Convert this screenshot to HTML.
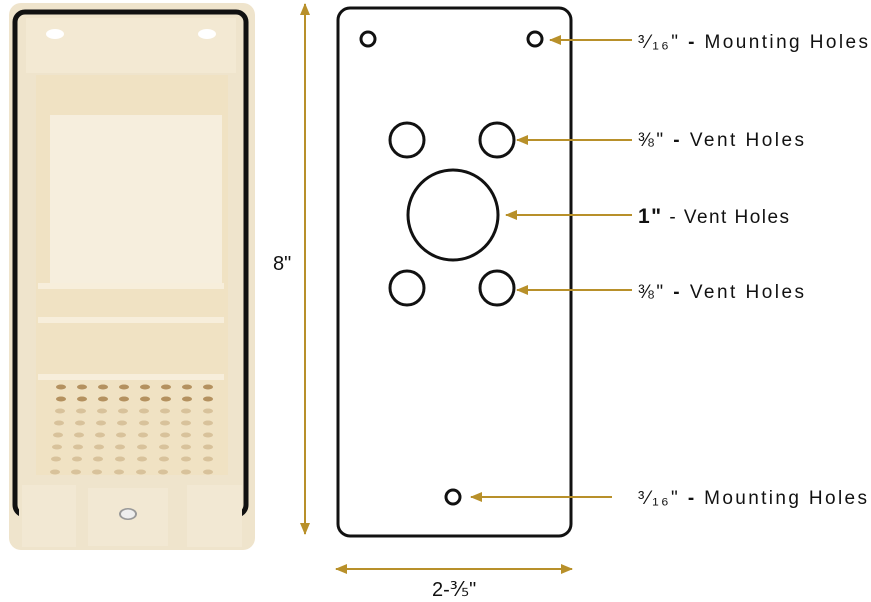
<!DOCTYPE html><html><head><style>body{margin:0;background:#fff}svg{display:block}text{font-family:"Liberation Sans",sans-serif;fill:#111}</style></head><body>
<svg width="871" height="602" viewBox="0 0 871 602">
<defs><marker id="a" markerWidth="12" markerHeight="10" refX="11" refY="5" orient="auto" markerUnits="userSpaceOnUse"><path d="M0,0L12,5L0,10z" fill="#b8902a"/></marker>
<marker id="b" markerWidth="12" markerHeight="10" refX="1" refY="5" orient="auto" markerUnits="userSpaceOnUse"><path d="M12,0L0,5L12,10z" fill="#b8902a"/></marker></defs>
<!-- photo -->
<rect x="9" y="3" width="246" height="547" rx="12" fill="#efe4cc"/>
<rect x="15" y="12" width="231" height="503" rx="10" fill="none" stroke="#111" stroke-width="5"/>
<rect x="19" y="490" width="223" height="40" fill="#efe4cc"/>
<rect x="26" y="18" width="210" height="55" fill="#f3e9d3"/>
<ellipse cx="55" cy="34" rx="9" ry="5" fill="#fff"/><ellipse cx="207" cy="34" rx="9" ry="5" fill="#fff"/>
<rect x="36" y="75" width="192" height="400" fill="#f0e2c3"/>
<rect x="50" y="115" width="172" height="170" fill="#f6eedd"/>
<rect x="38" y="283" width="186" height="6" fill="#f7eedb"/>
<rect x="38" y="317" width="186" height="6" fill="#f7eedb"/>
<rect x="38" y="374" width="186" height="6" fill="#f7eedb"/>
<rect x="22" y="485" width="54" height="62" fill="#f2e8d3"/>
<rect x="88" y="488" width="80" height="58" fill="#f2e8d3"/>
<rect x="187" y="485" width="55" height="62" fill="#f2e8d3"/>
<ellipse cx="128" cy="514" rx="9" ry="6" fill="#999"/><ellipse cx="128" cy="514" rx="7" ry="4.5" fill="#eee"/>
<g fill="#b4915f">
<ellipse cx="61" cy="387" rx="5" ry="2.5"/><ellipse cx="82" cy="387" rx="5" ry="2.5"/><ellipse cx="103" cy="387" rx="5" ry="2.5"/><ellipse cx="124" cy="387" rx="5" ry="2.5"/><ellipse cx="145" cy="387" rx="5" ry="2.5"/><ellipse cx="166" cy="387" rx="5" ry="2.5"/><ellipse cx="187" cy="387" rx="5" ry="2.5"/><ellipse cx="208" cy="387" rx="5" ry="2.5"/>
<ellipse cx="61" cy="399" rx="5" ry="2.5"/><ellipse cx="82" cy="399" rx="5" ry="2.5"/><ellipse cx="103" cy="399" rx="5" ry="2.5"/><ellipse cx="124" cy="399" rx="5" ry="2.5"/><ellipse cx="145" cy="399" rx="5" ry="2.5"/><ellipse cx="166" cy="399" rx="5" ry="2.5"/><ellipse cx="187" cy="399" rx="5" ry="2.5"/><ellipse cx="208" cy="399" rx="5" ry="2.5"/>
</g>
<g fill="#d8c29b">
<ellipse cx="60" cy="411" rx="5" ry="2.5"/><ellipse cx="81" cy="411" rx="5" ry="2.5"/><ellipse cx="102" cy="411" rx="5" ry="2.5"/><ellipse cx="123" cy="411" rx="5" ry="2.5"/><ellipse cx="144" cy="411" rx="5" ry="2.5"/><ellipse cx="165" cy="411" rx="5" ry="2.5"/><ellipse cx="186" cy="411" rx="5" ry="2.5"/><ellipse cx="208" cy="411" rx="5" ry="2.5"/>
<ellipse cx="59" cy="423" rx="5" ry="2.5"/><ellipse cx="80" cy="423" rx="5" ry="2.5"/><ellipse cx="101" cy="423" rx="5" ry="2.5"/><ellipse cx="122" cy="423" rx="5" ry="2.5"/><ellipse cx="144" cy="423" rx="5" ry="2.5"/><ellipse cx="165" cy="423" rx="5" ry="2.5"/><ellipse cx="186" cy="423" rx="5" ry="2.5"/><ellipse cx="208" cy="423" rx="5" ry="2.5"/>
<ellipse cx="58" cy="435" rx="5" ry="2.5"/><ellipse cx="79" cy="435" rx="5" ry="2.5"/><ellipse cx="100" cy="435" rx="5" ry="2.5"/><ellipse cx="121" cy="435" rx="5" ry="2.5"/><ellipse cx="143" cy="435" rx="5" ry="2.5"/><ellipse cx="165" cy="435" rx="5" ry="2.5"/><ellipse cx="186" cy="435" rx="5" ry="2.5"/><ellipse cx="208" cy="435" rx="5" ry="2.5"/>
<ellipse cx="57" cy="447" rx="5" ry="2.5"/><ellipse cx="78" cy="447" rx="5" ry="2.5"/><ellipse cx="99" cy="447" rx="5" ry="2.5"/><ellipse cx="120" cy="447" rx="5" ry="2.5"/><ellipse cx="142" cy="447" rx="5" ry="2.5"/><ellipse cx="164" cy="447" rx="5" ry="2.5"/><ellipse cx="186" cy="447" rx="5" ry="2.5"/><ellipse cx="208" cy="447" rx="5" ry="2.5"/>
<ellipse cx="56" cy="459" rx="5" ry="2.5"/><ellipse cx="77" cy="459" rx="5" ry="2.5"/><ellipse cx="98" cy="459" rx="5" ry="2.5"/><ellipse cx="120" cy="459" rx="5" ry="2.5"/><ellipse cx="142" cy="459" rx="5" ry="2.5"/><ellipse cx="164" cy="459" rx="5" ry="2.5"/><ellipse cx="186" cy="459" rx="5" ry="2.5"/><ellipse cx="208" cy="459" rx="5" ry="2.5"/>
<ellipse cx="55" cy="472" rx="5" ry="2.5"/><ellipse cx="76" cy="472" rx="5" ry="2.5"/><ellipse cx="97" cy="472" rx="5" ry="2.5"/><ellipse cx="119" cy="472" rx="5" ry="2.5"/><ellipse cx="141" cy="472" rx="5" ry="2.5"/><ellipse cx="163" cy="472" rx="5" ry="2.5"/><ellipse cx="186" cy="472" rx="5" ry="2.5"/><ellipse cx="208" cy="472" rx="5" ry="2.5"/>
</g>
<!-- dims -->
<line x1="305" y1="4" x2="305" y2="534" stroke="#b8902a" stroke-width="2" marker-start="url(#b)" marker-end="url(#a)"/>
<text x="273" y="270" font-size="20">8"</text>
<line x1="336" y1="569" x2="572" y2="569" stroke="#b8902a" stroke-width="2" marker-start="url(#b)" marker-end="url(#a)"/>
<text x="432" y="596" font-size="20">2-⅗"</text>
<!-- plate -->
<rect x="338" y="8" width="233" height="528" rx="12" fill="#fff" stroke="#111" stroke-width="3"/>
<g fill="none" stroke="#111" stroke-width="3">
<circle cx="368" cy="39" r="7"/><circle cx="535" cy="39" r="7"/>
<circle cx="407" cy="140" r="17"/><circle cx="497" cy="140" r="17"/>
<circle cx="453" cy="215" r="45"/>
<circle cx="407" cy="288" r="17"/><circle cx="497" cy="288" r="17"/>
<circle cx="453" cy="497" r="7"/></g>
<g stroke="#b8902a" stroke-width="2">
<line x1="632" y1="40" x2="550" y2="40" marker-end="url(#a)"/>
<line x1="632" y1="140" x2="517" y2="140" marker-end="url(#a)"/>
<line x1="632" y1="215" x2="506" y2="215" marker-end="url(#a)"/>
<line x1="632" y1="290" x2="517" y2="290" marker-end="url(#a)"/>
<line x1="612" y1="497" x2="471" y2="497" marker-end="url(#a)"/></g>
<g font-size="19">
<text x="638" y="48" textLength="230" lengthAdjust="spacing">³⁄₁₆" <tspan font-weight="bold">-</tspan> Mounting Holes</text>
<text x="638" y="146" textLength="166" lengthAdjust="spacing">⅜" <tspan font-weight="bold">-</tspan> Vent Holes</text>
<text x="638" y="223" textLength="151" lengthAdjust="spacing"><tspan font-weight="bold" font-size="21">1"</tspan> - Vent Holes</text>
<text x="638" y="298" textLength="166" lengthAdjust="spacing">⅜" <tspan font-weight="bold">-</tspan> Vent Holes</text>
<text x="638" y="504" textLength="229" lengthAdjust="spacing">³⁄₁₆" <tspan font-weight="bold">-</tspan> Mounting Holes</text>
</g>
</svg></body></html>
